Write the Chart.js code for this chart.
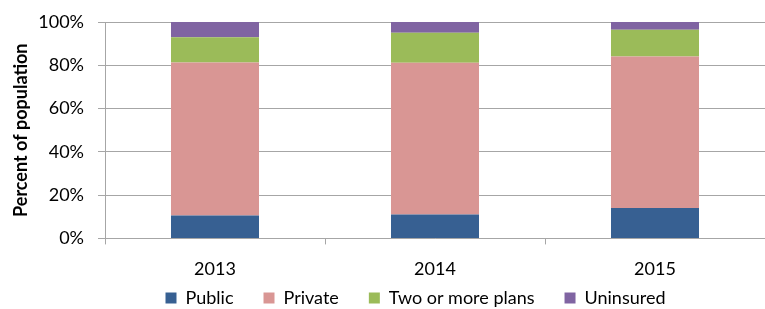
<!DOCTYPE html>
<html>
<head>
<meta charset="utf-8">
<script src="https://cdn.jsdelivr.net/npm/chart.js@4/dist/chart.umd.min.js"></script>
<style>
  html, body { margin: 0; padding: 0; background: #fff; }
  #wrap { width: 765px; height: 309px; }
</style>
</head>
<body>
<div id="wrap"><canvas id="coverageChart" width="765" height="309"></canvas></div>
<script>
const years = ['2013', '2014', '2015'];
const publicPct = [10.6, 11.1, 14.0];
const privatePct = [70.7, 70.1, 70.1];
const twoOrMorePct = [11.6, 13.8, 12.3];
const uninsuredPct = [7.1, 5.0, 3.6];

const FONT = 'Lato, "Open Sans", sans-serif';
const GRID = '#A6A6A6';

// nudge the legend to where Excel put it
const legendShift = {
    id: 'legendShift',
    afterLayout(chart) {
        const lg = chart.legend;
        lg.left += 33;
        lg.right += 33;
        lg.top -= 35;
        lg.bottom -= 35;
    }
};

const makeSet = (label, data, color) => ({
    label: label,
    data: data,
    backgroundColor: color,
    borderWidth: 0,
    barPercentage: 0.4,
    categoryPercentage: 1
});

const ctx = document.getElementById('coverageChart').getContext('2d');
new Chart(ctx, {
    type: 'bar',
    data: {
        labels: years,
        datasets: [
            makeSet('Public', publicPct, '#376092'),
            makeSet('Private', privatePct, '#D99694'),
            makeSet('Two or more plans', twoOrMorePct, '#9BBB59'),
            makeSet('Uninsured', uninsuredPct, '#8064A2')
        ]
    },
    options: {
        responsive: false,
        animation: false,
        layout: { padding: { top: 22, right: 0, left: 0, bottom: -43 } },
        scales: {
            x: {
                stacked: true,
                grid: { display: true, drawOnChartArea: false, color: GRID, tickLength: 6, offset: true },
                border: { color: GRID },
                ticks: { color: '#000', padding: 14, font: { family: FONT, size: 18 } }
            },
            y: {
                stacked: true,
                min: 0,
                max: 100,
                grid: { color: GRID, tickLength: 7 },
                border: { color: GRID },
                ticks: {
                    stepSize: 20,
                    color: '#000',
                    padding: 14,
                    font: { family: FONT, size: 18 },
                    callback: (v) => v + '%'
                },
                title: {
                    display: true,
                    text: 'Percent of population',
                    color: '#000',
                    padding: { top: 10, bottom: 0 },
                    font: { family: FONT, size: 18, weight: 'bold' }
                },
                afterFit: (scale) => {
                    scale.width = 105;
                    scale.paddingTop = 0;
                }
            }
        },
        plugins: {
            legend: {
                position: 'bottom',
                labels: {
                    boxWidth: 11,
                    boxHeight: 11,
                    padding: 30,
                    color: '#000',
                    font: { family: FONT, size: 18 }
                }
            },
            tooltip: { enabled: false }
        }
    },
    plugins: [legendShift]
});
</script>
</body>
</html>
